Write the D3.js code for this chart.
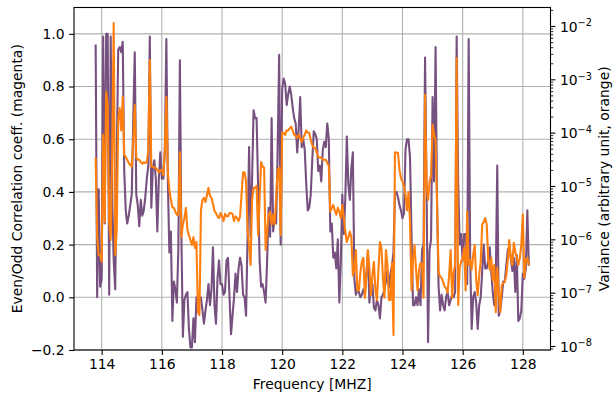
<!DOCTYPE html>
<html><head><meta charset="utf-8">
<script src="https://cdn.jsdelivr.net/npm/d3@7"></script>
<style>
body{margin:0;background:#fff}
text{font-family:"DejaVu Sans",sans-serif;fill:#000}
</style>
</head><body>
<svg id="c" width="613" height="396"></svg>
<script>
const frequency = [
113.8,113.85,113.9,113.95,
114,114.05,114.1,114.15,114.2,114.25,114.3,114.35,114.4,114.45,114.5,114.55,114.6,114.65,114.7,114.75,114.8,114.85,114.9,114.95,
115,115.05,115.1,115.15,115.2,115.25,115.3,115.35,115.4,115.45,115.5,115.55,115.6,115.65,115.7,115.75,115.8,115.85,115.9,115.95,
116,116.05,116.1,116.15,116.2,116.25,116.3,116.35,116.4,116.45,116.5,116.55,116.6,116.65,116.7,116.75,116.8,116.85,116.9,116.95,
117,117.05,117.1,117.15,117.2,117.25,117.3,117.35,117.4,117.45,117.5,117.55,117.6,117.65,117.7,117.75,117.8,117.85,117.9,117.95,
118,118.05,118.1,118.15,118.2,118.25,118.3,118.35,118.4,118.45,118.5,118.55,118.6,118.65,118.7,118.75,118.8,118.85,118.9,118.95,
119,119.05,119.1,119.15,119.2,119.25,119.3,119.35,119.4,119.45,119.5,119.55,119.6,119.65,119.7,119.75,119.8,119.85,119.9,119.95,
120,120.05,120.1,120.15,120.2,120.25,120.3,120.35,120.4,120.45,120.5,120.55,120.6,120.65,120.7,120.75,120.8,120.85,120.9,120.95,
121,121.05,121.1,121.15,121.2,121.25,121.3,121.35,121.4,121.45,121.5,121.55,121.6,121.65,121.7,121.75,121.8,121.85,121.9,121.95,
122,122.05,122.1,122.15,122.2,122.25,122.3,122.35,122.4,122.45,122.5,122.55,122.6,122.65,122.7,122.75,122.8,122.85,122.9,122.95,
123,123.05,123.1,123.15,123.2,123.25,123.3,123.35,123.4,123.45,123.5,123.55,123.6,123.65,123.7,123.75,123.8,123.85,123.9,123.95,
124,124.05,124.1,124.15,124.2,124.25,124.3,124.35,124.4,124.45,124.5,124.55,124.6,124.65,124.7,124.75,124.8,124.85,124.9,124.95,
125,125.05,125.1,125.15,125.2,125.25,125.3,125.35,125.4,125.45,125.5,125.55,125.6,125.65,125.7,125.75,125.8,125.85,125.9,125.95,
126,126.05,126.1,126.15,126.2,126.25,126.3,126.35,126.4,126.45,126.5,126.55,126.6,126.65,126.7,126.75,126.8,126.85,126.9,126.95,
127,127.05,127.1,127.15,127.2,127.25,127.3,127.35,127.4,127.45,127.5,127.55,127.6,127.65,127.7,127.75,127.8,127.85,127.9,127.95,
128,128.05,128.1,128.15,128.2];

const correlation = [
0.96,0.00,0.41,0.04,0.07,0.99,0.28,1.00,1.00,0.01,
0.99,0.37,0.14,0.03,0.52,0.94,0.95,0.93,0.97,0.48,
0.33,0.28,0.31,0.35,0.39,0.68,0.93,0.39,0.35,0.27,
0.37,0.31,0.33,0.38,0.45,0.50,0.99,0.34,0.49,0.52,
0.45,0.25,0.45,0.55,0.45,0.45,0.56,0.98,0.44,0.17,
0.25,-0.09,0.06,0.03,-0.02,0.19,0.90,0.23,-0.15,-0.01,
0.01,0.02,-0.12,-0.19,-0.19,-0.08,-0.17,0.00,-0.03,-0.01,
0.00,-0.05,-0.10,-0.05,-0.01,0.05,-0.03,0.03,0.19,-0.03,
-0.10,0.07,0.14,0.05,0.05,0.01,0.02,0.14,0.15,0.00,
-0.14,-0.07,0.00,0.09,0.02,0.11,0.15,0.12,0.01,0.00,
-0.07,0.23,0.57,0.23,0.45,0.71,0.68,0.68,0.42,0.14,
0.04,0.05,0.02,-0.02,0.14,0.34,0.23,0.68,0.25,0.30,
0.28,0.56,0.92,0.20,0.79,0.83,0.81,0.73,0.77,0.80,
0.77,0.72,0.68,0.66,0.55,0.64,0.76,0.57,0.60,0.56,
0.43,0.33,0.34,0.39,0.52,0.63,0.62,0.60,0.48,0.50,
0.44,0.56,0.59,0.57,0.66,0.60,0.25,0.28,0.15,0.17,
0.11,0.22,-0.02,0.14,0.39,0.24,0.38,0.61,0.43,0.37,
0.49,0.55,0.07,0.01,0.03,0.02,0.00,0.01,0.03,0.01,
0.09,0.17,-0.02,0.05,0.05,-0.04,-0.05,-0.01,-0.03,-0.08,
0.00,0.01,0.03,0.06,0.10,0.04,0.09,0.12,0.17,0.39,
0.40,0.38,0.35,0.33,0.30,0.32,0.56,0.60,0.60,0.53,
0.24,-0.03,-0.03,0.00,-0.03,0.03,-0.03,0.18,0.20,0.91,
0.41,-0.17,0.18,0.22,0.76,0.44,0.95,0.35,0.04,-0.05,
0.01,-0.03,-0.05,0.00,0.02,-0.03,-0.01,0.01,0.00,0.02,
0.99,0.44,0.20,0.24,0.14,0.24,0.24,0.05,0.98,0.14,
-0.12,0.00,0.02,-0.02,-0.12,-0.03,0.00,0.10,0.20,0.11,
0.11,0.14,0.19,0.10,0.02,-0.03,0.07,0.50,-0.07,-0.05,
0.00,0.06,0.06,0.12,0.18,0.19,0.15,0.10,0.15,0.02,
0.16,-0.09,-0.08,-0.05,0.09,0.07,0.11,0.33,0.12];

const variance = [
3.4e-5,1.1e-6,5.1e-7,5.1e-7,3.8e-7,9.1e-5,2.1e-6,5.8e-4,3.3e-4,2.1e-6,
9.7e-7,4.7e-5,1.14e-2,5.1e-7,1.5e-6,1.7e-4,2.9e-4,1.1e-4,4.7e-4,3.8e-5,
3.5e-5,3.1e-5,2.7e-5,2.5e-5,2.3e-5,7.3e-5,3.3e-4,3.4e-5,3.1e-5,3.1e-5,
2.8e-5,2.6e-5,2.8e-5,2.7e-5,2.8e-5,4.7e-5,2.3e-3,2.3e-5,2.3e-5,2.2e-5,
2.2e-5,2.0e-5,1.8e-5,2.0e-5,2.0e-5,1.6e-5,4.7e-5,4.7e-4,1.8e-5,8.4e-6,
5.5e-6,4.0e-6,3.9e-6,3.3e-6,2.9e-6,2.9e-6,4.3e-5,1.1e-6,1.9e-6,2.5e-6,
3.9e-6,1.5e-6,1.2e-6,9.7e-7,7.8e-7,1.1e-6,6.9e-7,8.9e-7,4.3e-8,3.8e-8,
3.5e-6,5.5e-6,6.0e-6,5.0e-6,6.8e-6,9.2e-6,6.5e-6,6.0e-6,4.6e-6,3.4e-6,
3.1e-6,2.7e-6,2.5e-6,3.1e-6,2.7e-6,2.2e-6,3.0e-6,2.7e-6,2.7e-6,3.1e-6,
3.1e-6,3.0e-6,2.2e-6,2.7e-6,2.5e-6,2.2e-6,2.7e-6,6.8e-6,1.8e-5,1.8e-5,
1.2e-5,1.5e-6,7.8e-7,3.3e-7,5.5e-6,9.2e-6,9.2e-6,1.0e-5,1.2e-6,5.5e-6,
2.8e-5,2.3e-5,2.2e-5,6.3e-7,1.4e-6,2.9e-6,3.3e-6,1.9e-6,2.9e-6,1.9e-6,
6.0e-6,2.0e-5,2.2e-5,1.2e-6,1.0e-4,9.9e-5,9.1e-5,1.1e-4,1.1e-4,1.2e-4,
1.3e-4,1.1e-4,9.1e-5,8.7e-5,8.0e-5,9.1e-5,8.0e-5,6.7e-5,8.0e-5,9.1e-5,
1.1e-4,1.0e-4,9.9e-5,7.3e-5,5.9e-5,5.2e-5,5.2e-5,4.2e-5,3.5e-5,3.4e-5,
3.4e-5,3.1e-5,3.1e-5,3.1e-5,2.7e-5,2.4e-5,3.3e-6,3.9e-6,4.4e-6,3.5e-6,
2.9e-6,3.9e-6,3.3e-6,2.5e-6,4.4e-6,2.5e-6,1.4e-6,8.9e-7,1.1e-6,1.4e-6,
1.1e-6,2.1e-7,2.7e-7,6.3e-7,1.1e-7,1.1e-7,2.4e-7,3.8e-7,4.5e-7,8.0e-8,
2.0e-7,6.3e-7,2.9e-7,9.0e-8,2.1e-7,3.8e-7,1.1e-7,7.3e-8,2.7e-7,8.9e-7,
6.9e-7,1.9e-7,8.0e-8,6.3e-7,3.3e-7,7.3e-8,7.3e-8,3.6e-7,1.6e-8,4.3e-5,
4.2e-5,4.2e-5,2.0e-5,1.4e-5,1.2e-5,1.0e-5,6.8e-6,3.5e-6,7.7e-6,2.1e-6,
1.1e-7,4.1e-7,7.8e-7,2.7e-7,1.1e-7,2.7e-7,3.6e-7,3.3e-7,8.0e-8,5.1e-4,
1.0e-5,5.5e-6,1.2e-5,1.6e-5,1.4e-4,9.1e-5,7.3e-5,4.4e-6,2.4e-7,2.0e-7,
1.9e-7,1.6e-7,1.3e-7,1.2e-7,1.0e-7,2.1e-7,6.3e-7,8.0e-8,2.4e-7,3.3e-7,
2.5e-3,5.9e-8,2.9e-7,3.8e-7,4.5e-7,6.9e-7,1.1e-7,3.3e-6,3.3e-7,4.1e-7,
2.7e-7,5.1e-7,7.8e-7,1.7e-7,9.0e-8,2.1e-7,3.8e-7,1.9e-6,2.1e-6,2.5e-6,
1.9e-6,4.1e-7,2.7e-7,4.5e-7,1.7e-7,3.3e-7,4.3e-8,2.9e-7,1.0e-7,4.3e-8,
1.4e-7,1.5e-7,1.6e-7,2.1e-7,4.1e-7,9.7e-7,4.5e-7,3.3e-7,8.6e-7,5.8e-7,
4.5e-7,3.3e-7,4.5e-7,7.8e-7,2.9e-6,1.9e-7,4.1e-7,4.5e-7,3.3e-7];

const xTicks = [114,116,118,120,122,124,126,128];
const yLeftTicks = [-0.2,0.0,0.2,0.4,0.6,0.8,1.0];
const yRightExponents = [-8,-7,-6,-5,-4,-3,-2];

const xLimits = [113.08, 128.92];
const yLeftLimits = [-0.2, 1.1];
const yRightLimits = [8.41e-9, 2.22e-2];

const L = 74, R = 550.5, T = 7.5, B = 350;
const FS = 13.9;
const svg = d3.select('#c');

const x = d3.scaleLinear().domain(xLimits).range([L, R]);
const yL = d3.scaleLinear().domain(yLeftLimits).range([B, T]);
const yR = d3.scaleLog().domain(yRightLimits).range([B, T]);

// grid
const grid = svg.append('g').attr('stroke', '#b0b0b0').attr('stroke-width', 1.1);
grid.selectAll('.gx').data(xTicks).join('line')
  .attr('x1', d => x(d)).attr('x2', d => x(d)).attr('y1', T).attr('y2', B);
grid.selectAll('.gy').data(yLeftTicks).join('line')
  .attr('x1', L).attr('x2', R).attr('y1', d => yL(d)).attr('y2', d => yL(d));

// clip
svg.append('defs').append('clipPath').attr('id', 'clip')
  .append('rect').attr('x', L).attr('y', T).attr('width', R - L).attr('height', B - T);

const data = frequency.map((f, i) => ({f, c: correlation[i], v: variance[i]}));

svg.append('path').datum(data)
  .attr('clip-path', 'url(#clip)')
  .attr('fill', 'none').attr('stroke', '#76507f').attr('stroke-width', 2.1)
  .attr('stroke-linejoin', 'round')
  .attr('d', d3.line().x(d => x(d.f)).y(d => yL(d.c)));

svg.append('path').datum(data)
  .attr('clip-path', 'url(#clip)')
  .attr('fill', 'none').attr('stroke', '#ff7f0e').attr('stroke-width', 2.1)
  .attr('stroke-linejoin', 'round')
  .attr('d', d3.line().x(d => x(d.f)).y(d => yR(d.v)));

// axes
function styleAxis(g) {
  g.select('.domain').remove();
  g.selectAll('.tick line').attr('stroke', '#000').attr('stroke-width', 1.1);
  g.selectAll('.tick text').attr('font-size', FS).attr('font-family', '"DejaVu Sans",sans-serif').attr('fill', '#000');
}
const minus = s => s.replace('-', '\u2212');

svg.append('g').attr('transform', `translate(0,${B})`)
  .call(d3.axisBottom(x).tickValues(xTicks).tickSize(4.9).tickPadding(4.5).tickFormat(d3.format('d')))
  .call(styleAxis);

svg.append('g').attr('transform', `translate(${L},0)`)
  .call(d3.axisLeft(yL).tickValues(yLeftTicks).tickSize(4.9).tickPadding(4.5).tickFormat(d => minus(d3.format('.1f')(d))))
  .call(styleAxis);

// right major
const rightMajor = yRightExponents.map(e => Math.pow(10, e));
const gR = svg.append('g').attr('transform', `translate(${R},0)`)
  .call(d3.axisRight(yR).tickValues(rightMajor).tickSize(4.9).tickPadding(4.5).tickFormat(() => ''))
  .call(styleAxis);
gR.selectAll('.tick text').each(function(d, i) {
  const t = d3.select(this);
  t.text(null).attr('dy', '0.38em');
  t.append('tspan').text('10');
  t.append('tspan').attr('font-size', FS * 0.7).attr('dy', -5.5).text('\u2212' + (-yRightExponents[i]));
});

// right minor
const minor = [];
for (let e = -9; e <= -2; e++) for (let m = 2; m <= 9; m++) {
  const v = m * Math.pow(10, e);
  if (v >= yRightLimits[0] && v <= yRightLimits[1]) minor.push(v);
}
svg.append('g').attr('transform', `translate(${R},0)`)
  .call(d3.axisRight(yR).tickValues(minor).tickSize(2.8).tickFormat(() => ''))
  .call(g => { g.select('.domain').remove(); g.selectAll('.tick line').attr('stroke', '#000').attr('stroke-width', 0.85); });

// frame
svg.append('rect').attr('x', L).attr('y', T).attr('width', R - L).attr('height', B - T)
  .attr('fill', 'none').attr('stroke', '#000').attr('stroke-width', 1.1);

// labels
svg.append('text').attr('x', (L + R) / 2).attr('y', 389).attr('text-anchor', 'middle')
  .attr('font-size', FS).text('Frequency [MHZ]');
svg.append('text').attr('transform', `translate(22,${(T + B) / 2}) rotate(-90)`).attr('text-anchor', 'middle')
  .attr('font-size', FS).text('Even/Odd Correlation coeff. (magenta)');
svg.append('text').attr('transform', `translate(609,${(T + B) / 2}) rotate(-90)`).attr('text-anchor', 'middle')
  .attr('font-size', FS).text('Variance (arbitrary unit, orange)');
</script>
</body></html>
